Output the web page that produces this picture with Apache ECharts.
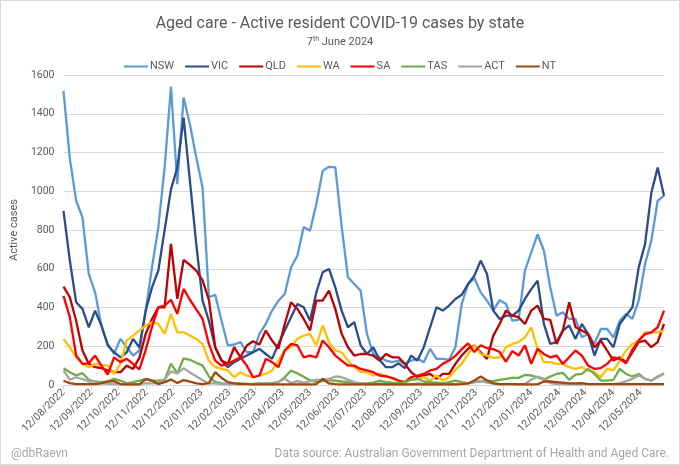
<!DOCTYPE html>
<html>
<head>
<meta charset="utf-8">
<script src="https://cdn.jsdelivr.net/npm/echarts@6/dist/echarts.min.js"></script>
<style>
  html, body { margin: 0; padding: 0; background: #fff; }
  #main { width: 678px; height: 463px; border: 1px solid #d9d9d9; }
</style>
</head>
<body>
<div id="main"></div>
<script>
// weekly reports, Fridays, 12/08/2022 .. 07/06/2024
const firstDay = new Date(2022, 7, 12)
const lastDay = new Date(2024, 5, 7)

const nsw = [1518, 1170, 951, 865, 573, 478, 305, 212, 160, 238, 195, 152, 178, 384, 607, 813, 1122, 1540, 1037, 1484, 1346, 1174, 1020, 453,
  466, 332, 204, 209, 221, 169, 169, 264, 315, 384, 435, 470, 607, 667, 816, 796, 934, 1105, 1126, 1123, 820, 556, 521, 487,
  264, 160, 143, 126, 118, 126, 109, 126, 135, 118, 187, 135, 135, 130, 195, 418, 521, 552, 478, 435, 384, 438, 418, 332,
  336, 590, 685, 778, 693, 504, 358, 375, 341, 341, 246, 263, 212, 289, 289, 246, 332, 367, 341, 435, 624, 745, 951, 977]
const vic = [899, 642, 427, 393, 298, 384, 307, 204, 169, 143, 169, 238, 195, 384, 504, 590, 800, 1010, 1122, 1380, 1054, 728, 435, 332,
  195, 126, 92, 118, 135, 152, 169, 187, 160, 135, 212, 281, 350, 418, 401, 332, 478, 582, 599, 504, 384, 298, 324, 205,
  160, 195, 130, 92, 92, 112, 87, 152, 126, 195, 298, 401, 384, 410, 444, 466, 521, 564, 642, 573, 384, 341, 358, 358,
  384, 444, 495, 538, 315, 212, 221, 281, 307, 238, 315, 263, 152, 238, 238, 195, 315, 358, 401, 607, 727, 993, 1122, 977]
const qld = [508, 453, 332, 178, 109, 92, 87, 75, 66, 66, 100, 83, 140, 264, 341, 401, 401, 728, 445, 646, 620, 590, 540, 440,
  195, 126, 109, 195, 143, 204, 226, 209, 281, 229, 187, 315, 427, 393, 341, 281, 436, 436, 487, 393, 264, 195, 152, 160,
  160, 152, 126, 160, 143, 143, 109, 66, 40, 49, 57, 32, 57, 57, 109, 152, 187, 204, 169, 135, 255, 315, 384, 358,
  350, 315, 384, 410, 341, 336, 212, 281, 427, 298, 281, 263, 195, 229, 178, 126, 143, 118, 169, 221, 229, 195, 221, 315]
const wa = [238, 195, 143, 109, 92, 109, 104, 100, 57, 109, 229, 255, 281, 307, 324, 315, 264, 367, 272, 272, 255, 238, 212, 126,
  92, 83, 75, 40, 66, 49, 40, 49, 57, 75, 126, 178, 195, 238, 255, 264, 204, 307, 221, 178, 169, 126, 92, 66,
  66, 49, 57, 49, 32, 23, 15, 27, 32, 40, 23, 49, 23, 40, 78, 109, 160, 204, 160, 152, 140, 143, 195, 212,
  221, 246, 298, 187, 118, 118, 109, 109, 92, 83, 92, 75, 66, 40, 83, 75, 126, 178, 212, 229, 272, 272, 272, 281]
const sa = [460, 350, 152, 109, 112, 152, 100, 54, 143, 118, 135, 109, 80, 180, 300, 401, 410, 440, 367, 496, 440, 390, 341, 212,
  126, 100, 109, 126, 143, 100, 40, 49, 135, 118, 92, 178, 212, 204, 143, 152, 143, 229, 195, 152, 126, 100, 100, 83,
  75, 66, 49, 44, 37, 23, 15, 40, 49, 57, 75, 83, 109, 126, 150, 185, 215, 170, 205, 190, 185, 170, 120, 175,
  152, 204, 109, 187, 160, 143, 152, 109, 143, 178, 152, 100, 83, 87, 109, 143, 135, 112, 183, 229, 263, 272, 298, 384]
const tas = [86, 66, 49, 61, 27, 18, 15, 18, 32, 23, 9, 15, 23, 32, 23, 23, 25, 110, 60, 138, 130, 115, 100, 45,
  15, 10, 8, 8, 8, 6, 6, 8, 8, 10, 15, 40, 75, 60, 42, 25, 15, 20, 25, 22, 18, 15, 10, 8,
  8, 12, 23, 15, 12, 10, 15, 27, 32, 18, 15, 12, 9, 15, 23, 15, 9, 15, 18, 23, 20, 27, 32, 37,
  37, 52, 49, 40, 27, 44, 57, 63, 27, 54, 57, 83, 57, 23, 23, 27, 83, 57, 44, 57, 32, 23, 44, 61]
const act = [75, 27, 40, 30, 18, 18, 10, 6, 5, 5, 3, 5, 5, 8, 8, 10, 30, 70, 60, 86, 65, 45, 25, 8,
  8, 5, 5, 5, 5, 5, 5, 8, 8, 10, 15, 32, 10, 20, 12, 20, 28, 25, 32, 44, 40, 28, 15, 8,
  5, 5, 8, 5, 5, 3, 3, 5, 8, 5, 5, 3, 3, 5, 5, 8, 10, 15, 23, 12, 8, 5, 5, 5,
  5, 5, 27, 44, 32, 10, 5, 5, 5, 3, 3, 5, 5, 5, 5, 5, 10, 20, 32, 49, 32, 23, 40, 58]
const nt = [22, 10, 5, 5, 5, 5, 8, 18, 20, 5, 3, 3, 3, 30, 22, 5, 15, 28, 10, 25, 18, 8, 5, 10,
  66, 37, 15, 8, 5, 5, 3, 3, 3, 3, 3, 3, 3, 3, 3, 3, 5, 32, 8, 5, 3, 3, 3, 3,
  3, 3, 3, 3, 3, 3, 3, 3, 3, 3, 3, 3, 3, 3, 3, 5, 8, 23, 44, 23, 8, 5, 5, 5,
  3, 3, 3, 3, 18, 18, 15, 12, 8, 8, 10, 5, 5, 5, 5, 5, 5, 5, 5, 5, 5, 5, 5, 5]

const states = ["NSW", "VIC", "QLD", "WA", "SA", "TAS", "ACT", "NT"]
const values = [nsw, vic, qld, wa, sa, tas, act, nt]
const colors = ["#5B9BD5", "#2B4C8C", "#C00000", "#FFC000", "#FF0000", "#70AD47", "#A5A5A5", "#9E480E"]

function fmt(d) {
  const p = (n) => String(n).padStart(2, "0")
  return p(d.getDate()) + "/" + p(d.getMonth() + 1) + "/" + d.getFullYear()
}

// one category per day so that the monthly labels sit on the 12th
const days = []
for (let d = new Date(firstDay); d <= lastDay; d.setDate(d.getDate() + 1)) days.push(fmt(d))
const weeks = days.filter((_, i) => i % 7 === 0)

const onTwelfth = (i, v) => v.slice(0, 3) === "12/"

const myChart = echarts.init(document.getElementById("main"))
myChart.setOption({
  animation: false,
  textStyle: { fontFamily: "Roboto, sans-serif" },
  title: {
    text: "Aged care - Active resident COVID-19 cases by state",
    subtext: "7{sup|th} June 2024",
    left: "center",
    top: 10,
    itemGap: 4,
    textStyle: { fontSize: 16, fontWeight: "normal", color: "#595959" },
    subtextStyle: {
      fontSize: 11, color: "#595959",
      rich: { sup: { fontSize: 7, color: "#595959", verticalAlign: "top", padding: [0, 0, 6, 0] } },
    },
  },
  legend: {
    top: 55,
    left: "center",
    icon: "rect",
    itemWidth: 24,
    itemHeight: 2,
    itemGap: 11,
    textStyle: { fontSize: 11, color: "#595959", padding: [0, 0, 0, -3] },
    data: states,
  },
  grid: { left: 53, right: 15, top: 74, bottom: 79 },
  xAxis: {
    type: "category",
    data: days,
    boundaryGap: false,
    axisLine: { lineStyle: { color: "#D9D9D9" } },
    axisTick: { interval: onTwelfth, length: 5, lineStyle: { color: "#D9D9D9" } },
    axisLabel: { interval: onTwelfth, rotate: 45, fontSize: 10.5, color: "#595959", margin: 6 },
  },
  yAxis: {
    type: "value",
    min: 0,
    max: 1600,
    interval: 200,
    name: "Active cases",
    nameLocation: "middle",
    nameGap: 40,
    nameTextStyle: { fontSize: 11, color: "#595959" },
    axisLabel: { fontSize: 10.5, color: "#595959", margin: 9, formatter: (v) => String(v) },
    splitLine: { lineStyle: { color: "#D9D9D9" } },
  },
  series: states.map((name, s) => ({
    name,
    type: "line",
    showSymbol: false,
    symbol: "none",
    color: colors[s],
    lineStyle: { width: 2.3 },
    data: weeks.map((d, i) => [d, values[s][i]]),
  })),
  graphic: [
    { type: "text", left: 10, top: 447, style: { text: "@dbRaevn", fontSize: 12, fill: "#A6A6A6", fontFamily: "Roboto, sans-serif" } },
    { type: "text", right: 10, top: 447, style: { text: "Data source: Australian Government Department of Health and Aged Care.", fontSize: 12, fill: "#A6A6A6", fontFamily: "Roboto, sans-serif" } },
  ],
})
</script>
</body>
</html>
